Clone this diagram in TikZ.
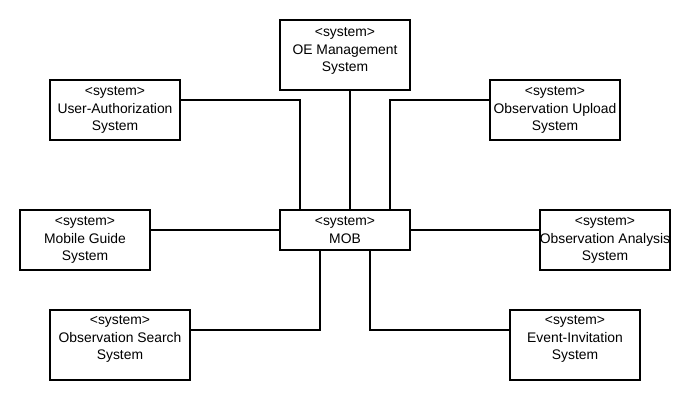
\documentclass[tikz,border=0pt]{standalone}
\usepackage{fontspec}
\setmainfont{Liberation Sans}
\begin{document}
\begin{tikzpicture}[
  sys/.style={draw, line width=0.6pt, minimum width=2.6cm, minimum height=1.2cm, inner sep=0pt},
  tall/.style={minimum height=1.4cm},
  systext/.style={align=center, font=\fontsize{7.9}{10.2}\selectfont, inner sep=0pt},
  link/.style={line width=0.6pt}]
\useasboundingbox (0,0) rectangle (13.8,-8);
% the central system
\node[sys, minimum height=0.8cm, label={[systext]center:<system>\\MOB}] (mob) at (6.9,-4.6) {};
% the systems round it
\node[sys, tall, label={[systext, yshift=0.08cm]center:<system>\\OE Management\\System}] (oe) at (6.9,-1.1) {};
\node[sys, label={[systext]center:<system>\\User-Authorization\\System}] (ua) at (2.3,-2.2) {};
\node[sys, label={[systext]center:<system>\\Observation Upload\\System}] (ou) at (11.1,-2.2) {};
\node[sys, label={[systext]center:<system>\\Mobile Guide\\System}] (mg) at (1.7,-4.8) {};
\node[sys, label={[systext]center:<system>\\Observation Analysis\\System}] (oa) at (12.1,-4.8) {};
\node[sys, tall, minimum width=2.8cm, label={[systext, yshift=0.12cm]center:<system>\\Observation Search\\System}] (os) at (2.4,-6.9) {};
\node[sys, tall, label={[systext, yshift=0.12cm]center:<system>\\Event-Invitation\\System}] (ei) at (11.5,-6.9) {};
% links
\draw[link] ([xshift=0.1cm]oe.south) -- ([xshift=0.1cm]mob.north);
\draw[link] ([yshift=0.2cm]ua.east) -| ([xshift=-0.9cm]mob.north);
\draw[link] ([yshift=0.2cm]ou.west) -| ([xshift=0.9cm]mob.north);
\draw[link] ([yshift=0.2cm]mg.east) -- (mob.west);
\draw[link] (mob.east) -- ([yshift=0.2cm]oa.west);
\draw[link] ([xshift=-0.5cm]mob.south) |- ([yshift=0.3cm]os.east);
\draw[link] ([xshift=0.5cm]mob.south) |- ([yshift=0.3cm]ei.west);
\end{tikzpicture}
\end{document}
